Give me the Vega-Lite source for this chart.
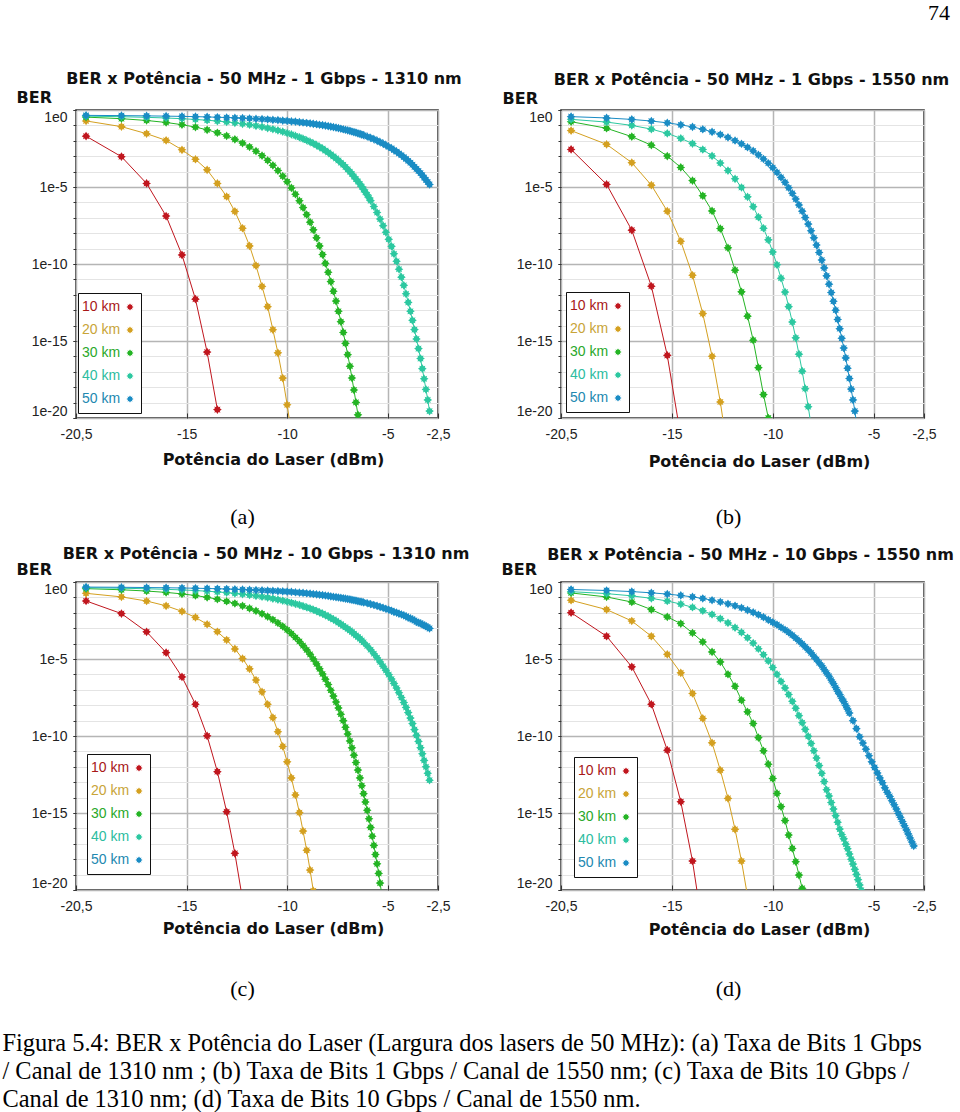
{
"$schema":"https://vega.github.io/schema/vega-lite/v6.json",
"autosize":{"type":"none"},
"padding":{"left":76,"top":110,"right":884,"bottom":1002},
"background":"white",
"config":{
 "view":{"stroke":"#1a1a1a","strokeWidth":1.5},
 "axis":{"domain":false,"labelFont":"Liberation Sans","labelFontSize":14,"labelColor":"#222","titleFont":"DejaVu Sans","titleFontSize":16,"titleFontWeight":"bold","titleColor":"#111","tickColor":"#333","gridColor":"#b5b5b5","gridWidth":1.5,"labelOverlap":false,"labelBound":false},
 "title":{"font":"DejaVu Sans","fontSize":16,"fontWeight":"bold","color":"#111","anchor":"middle","frame":"group"},
 "legend":{"title":null,"orient":"none","padding":7,"rowPadding":9,"strokeColor":"#111","fillColor":"white","labelFont":"Liberation Sans","labelFontSize":14,"symbolSize":50,
  "symbolType":"M0,-1L0.3,-0.55L0.7,-0.7L0.55,-0.3L1,0L0.55,0.3L0.7,0.7L0.3,0.55L0,1L-0.3,0.55L-0.7,0.7L-0.55,0.3L-1,0L-0.55,-0.3L-0.7,-0.7L-0.3,-0.55Z"}
},
"resolve":{"scale":{"color":"independent"},"legend":{"color":"independent"}},
"datasets":{
"a":[
{"km":"10 km","dbm":-20.00,"ber":2.0e-2},{"km":"10 km","dbm":-18.24,"ber":9.3e-4},{"km":"10 km","dbm":-16.99,"ber":1.7e-5},{"km":"10 km","dbm":-16.02,"ber":1.3e-7},{"km":"10 km","dbm":-15.23,"ber":3.9e-10},{"km":"10 km","dbm":-14.56,"ber":5.2e-13},{"km":"10 km","dbm":-13.98,"ber":1.9e-16},{"km":"10 km","dbm":-13.47,"ber":3.5e-20},
{"km":"20 km","dbm":-20.00,"ber":0.195},{"km":"20 km","dbm":-18.24,"ber":8.3e-2},{"km":"20 km","dbm":-16.99,"ber":2.9e-2},{"km":"20 km","dbm":-16.02,"ber":1.07e-2},{"km":"20 km","dbm":-15.23,"ber":2.6e-3},{"km":"20 km","dbm":-14.56,"ber":6.3e-4},{"km":"20 km","dbm":-13.98,"ber":1.3e-4},{"km":"20 km","dbm":-13.47,"ber":1.7e-5},{"km":"20 km","dbm":-13.01,"ber":2.4e-6},{"km":"20 km","dbm":-12.60,"ber":2.6e-7},{"km":"20 km","dbm":-12.22,"ber":2.1e-8},{"km":"20 km","dbm":-11.87,"ber":1.5e-9},{"km":"20 km","dbm":-11.55,"ber":7.9e-11},{"km":"20 km","dbm":-11.25,"ber":3.5e-12},{"km":"20 km","dbm":-10.97,"ber":1.7e-13},{"km":"20 km","dbm":-10.71,"ber":5.4e-15},{"km":"20 km","dbm":-10.46,"ber":1.7e-16},{"km":"20 km","dbm":-10.22,"ber":3.9e-18},{"km":"20 km","dbm":-10.00,"ber":7.2e-20},{"km":"20 km","dbm":-9.79,"ber":1e-21},
{"km":"30 km","dbm":-20.00,"ber":0.345},{"km":"30 km","dbm":-18.24,"ber":0.273},{"km":"30 km","dbm":-16.99,"ber":0.209},{"km":"30 km","dbm":-16.02,"ber":0.155},{"km":"30 km","dbm":-15.23,"ber":0.111},{"km":"30 km","dbm":-14.56,"ber":0.0771},{"km":"30 km","dbm":-13.98,"ber":0.0516},{"km":"30 km","dbm":-13.47,"ber":0.0333},{"km":"30 km","dbm":-13.01,"ber":0.0207},{"km":"30 km","dbm":-12.60,"ber":0.0124},{"km":"30 km","dbm":-12.22,"ber":0.00714},{"km":"30 km","dbm":-11.87,"ber":0.00397},{"km":"30 km","dbm":-11.55,"ber":0.00212},{"km":"30 km","dbm":-11.25,"ber":1.09e-3},{"km":"30 km","dbm":-10.97,"ber":5.4e-4},{"km":"30 km","dbm":-10.71,"ber":2.55e-4},{"km":"30 km","dbm":-10.46,"ber":1.17e-4},{"km":"30 km","dbm":-10.22,"ber":5.1e-5},{"km":"30 km","dbm":-10.00,"ber":2.2e-5},{"km":"30 km","dbm":-9.79,"ber":8.7e-6},{"km":"30 km","dbm":-9.59,"ber":3.4e-6},{"km":"30 km","dbm":-9.39,"ber":1.27e-6},{"km":"30 km","dbm":-9.21,"ber":4.6e-7},{"km":"30 km","dbm":-9.03,"ber":1.6e-7},{"km":"30 km","dbm":-8.86,"ber":5.2e-8},{"km":"30 km","dbm":-8.70,"ber":1.65e-8},{"km":"30 km","dbm":-8.54,"ber":5.0e-9},{"km":"30 km","dbm":-8.39,"ber":1.5e-9},{"km":"30 km","dbm":-8.24,"ber":4.1e-10},{"km":"30 km","dbm":-8.10,"ber":1.1e-10},{"km":"30 km","dbm":-7.96,"ber":2.9e-11},{"km":"30 km","dbm":-7.83,"ber":7.2e-12},{"km":"30 km","dbm":-7.70,"ber":1.7e-12},{"km":"30 km","dbm":-7.57,"ber":3.9e-13},{"km":"30 km","dbm":-7.45,"ber":8.5e-14},{"km":"30 km","dbm":-7.33,"ber":1.8e-14},{"km":"30 km","dbm":-7.21,"ber":3.6e-15},{"km":"30 km","dbm":-7.10,"ber":7.0e-16},{"km":"30 km","dbm":-6.99,"ber":1.3e-16},{"km":"30 km","dbm":-6.88,"ber":2.3e-17},{"km":"30 km","dbm":-6.78,"ber":4.0e-18},{"km":"30 km","dbm":-6.68,"ber":6.6e-19},{"km":"30 km","dbm":-6.58,"ber":1.03e-19},{"km":"30 km","dbm":-6.48,"ber":1.6e-20},{"km":"30 km","dbm":-6.38,"ber":2.3e-21},
{"km":"40 km","dbm":-20.00,"ber":0.401},{"km":"40 km","dbm":-18.24,"ber":0.367},{"km":"40 km","dbm":-16.99,"ber":0.334},{"km":"40 km","dbm":-16.02,"ber":0.303},{"km":"40 km","dbm":-15.23,"ber":0.272},{"km":"40 km","dbm":-14.56,"ber":0.243},{"km":"40 km","dbm":-13.98,"ber":0.216},{"km":"40 km","dbm":-13.47,"ber":0.191},{"km":"40 km","dbm":-13.01,"ber":0.168},{"km":"40 km","dbm":-12.60,"ber":0.147},{"km":"40 km","dbm":-12.22,"ber":0.127},{"km":"40 km","dbm":-11.87,"ber":0.110},{"km":"40 km","dbm":-11.55,"ber":0.094},{"km":"40 km","dbm":-11.25,"ber":0.080},{"km":"40 km","dbm":-10.97,"ber":0.0673},{"km":"40 km","dbm":-10.71,"ber":0.0565},{"km":"40 km","dbm":-10.46,"ber":0.0471},{"km":"40 km","dbm":-10.22,"ber":0.0390},{"km":"40 km","dbm":-10.00,"ber":0.0320},{"km":"40 km","dbm":-9.79,"ber":0.0261},{"km":"40 km","dbm":-9.59,"ber":0.0212},{"km":"40 km","dbm":-9.39,"ber":0.0170},{"km":"40 km","dbm":-9.21,"ber":0.0136},{"km":"40 km","dbm":-9.03,"ber":0.0108},{"km":"40 km","dbm":-8.86,"ber":0.0085},{"km":"40 km","dbm":-8.70,"ber":0.0067},{"km":"40 km","dbm":-8.54,"ber":0.0052},{"km":"40 km","dbm":-8.39,"ber":0.0040},{"km":"40 km","dbm":-8.24,"ber":0.0031},{"km":"40 km","dbm":-8.10,"ber":0.0023},{"km":"40 km","dbm":-7.96,"ber":0.00175},{"km":"40 km","dbm":-7.83,"ber":0.00131},{"km":"40 km","dbm":-7.70,"ber":9.7e-4},{"km":"40 km","dbm":-7.57,"ber":7.2e-4},{"km":"40 km","dbm":-7.45,"ber":5.3e-4},{"km":"40 km","dbm":-7.33,"ber":3.8e-4},{"km":"40 km","dbm":-7.21,"ber":2.8e-4},{"km":"40 km","dbm":-7.10,"ber":2.0e-4},{"km":"40 km","dbm":-6.99,"ber":1.4e-4},{"km":"40 km","dbm":-6.88,"ber":9.9e-5},{"km":"40 km","dbm":-6.78,"ber":7.0e-5},{"km":"40 km","dbm":-6.68,"ber":4.8e-5},{"km":"40 km","dbm":-6.58,"ber":3.3e-5},{"km":"40 km","dbm":-6.48,"ber":2.3e-5},{"km":"40 km","dbm":-6.38,"ber":1.55e-5},{"km":"40 km","dbm":-6.29,"ber":1.05e-5},{"km":"40 km","dbm":-6.20,"ber":7.0e-6},{"km":"40 km","dbm":-6.11,"ber":4.6e-6},{"km":"40 km","dbm":-6.02,"ber":3.1e-6},{"km":"40 km","dbm":-5.93,"ber":2.0e-6},{"km":"40 km","dbm":-5.85,"ber":1.3e-6},{"km":"40 km","dbm":-5.69,"ber":5.4e-7},{"km":"40 km","dbm":-5.53,"ber":2.2e-7},{"km":"40 km","dbm":-5.38,"ber":8.3e-8},{"km":"40 km","dbm":-5.23,"ber":3.1e-8},{"km":"40 km","dbm":-5.09,"ber":1.14e-8},{"km":"40 km","dbm":-4.95,"ber":4.0e-9},{"km":"40 km","dbm":-4.81,"ber":1.4e-9},{"km":"40 km","dbm":-4.69,"ber":4.6e-10},{"km":"40 km","dbm":-4.56,"ber":1.5e-10},{"km":"40 km","dbm":-4.44,"ber":4.6e-11},{"km":"40 km","dbm":-4.32,"ber":1.4e-11},{"km":"40 km","dbm":-4.20,"ber":4.1e-12},{"km":"40 km","dbm":-4.09,"ber":1.16e-12},{"km":"40 km","dbm":-3.98,"ber":3.2e-13},{"km":"40 km","dbm":-3.87,"ber":8.5e-14},{"km":"40 km","dbm":-3.77,"ber":2.2e-14},{"km":"40 km","dbm":-3.67,"ber":5.5e-15},{"km":"40 km","dbm":-3.57,"ber":1.35e-15},{"km":"40 km","dbm":-3.47,"ber":3.2e-16},{"km":"40 km","dbm":-3.37,"ber":7.3e-17},{"km":"40 km","dbm":-3.28,"ber":1.6e-17},{"km":"40 km","dbm":-3.19,"ber":3.5e-18},{"km":"40 km","dbm":-3.10,"ber":7.2e-19},{"km":"40 km","dbm":-3.01,"ber":1.5e-19},{"km":"40 km","dbm":-2.92,"ber":2.8e-20},
{"km":"50 km","dbm":-20.00,"ber":0.448},{"km":"50 km","dbm":-18.24,"ber":0.432},{"km":"50 km","dbm":-16.99,"ber":0.416},{"km":"50 km","dbm":-16.02,"ber":0.400},{"km":"50 km","dbm":-15.23,"ber":0.385},{"km":"50 km","dbm":-14.56,"ber":0.370},{"km":"50 km","dbm":-13.98,"ber":0.355},{"km":"50 km","dbm":-13.47,"ber":0.339},{"km":"50 km","dbm":-13.01,"ber":0.325},{"km":"50 km","dbm":-12.60,"ber":0.310},{"km":"50 km","dbm":-12.22,"ber":0.296},{"km":"50 km","dbm":-11.87,"ber":0.282},{"km":"50 km","dbm":-11.55,"ber":0.269},{"km":"50 km","dbm":-11.25,"ber":0.256},{"km":"50 km","dbm":-10.97,"ber":0.243},{"km":"50 km","dbm":-10.71,"ber":0.230},{"km":"50 km","dbm":-10.46,"ber":0.218},{"km":"50 km","dbm":-10.22,"ber":0.206},{"km":"50 km","dbm":-10.00,"ber":0.195},{"km":"50 km","dbm":-9.79,"ber":0.184},{"km":"50 km","dbm":-9.59,"ber":0.174},{"km":"50 km","dbm":-9.39,"ber":0.163},{"km":"50 km","dbm":-9.21,"ber":0.154},{"km":"50 km","dbm":-9.03,"ber":0.144},{"km":"50 km","dbm":-8.86,"ber":0.135},{"km":"50 km","dbm":-8.70,"ber":0.127},{"km":"50 km","dbm":-8.54,"ber":0.118},{"km":"50 km","dbm":-8.39,"ber":0.110},{"km":"50 km","dbm":-8.24,"ber":0.103},{"km":"50 km","dbm":-8.10,"ber":0.096},{"km":"50 km","dbm":-7.96,"ber":0.089},{"km":"50 km","dbm":-7.83,"ber":0.083},{"km":"50 km","dbm":-7.70,"ber":0.077},{"km":"50 km","dbm":-7.57,"ber":0.071},{"km":"50 km","dbm":-7.45,"ber":0.066},{"km":"50 km","dbm":-7.33,"ber":0.061},{"km":"50 km","dbm":-7.21,"ber":0.056},{"km":"50 km","dbm":-7.10,"ber":0.052},{"km":"50 km","dbm":-6.99,"ber":0.048},{"km":"50 km","dbm":-6.88,"ber":0.0437},{"km":"50 km","dbm":-6.78,"ber":0.0401},{"km":"50 km","dbm":-6.68,"ber":0.0367},{"km":"50 km","dbm":-6.58,"ber":0.0336},{"km":"50 km","dbm":-6.48,"ber":0.0306},{"km":"50 km","dbm":-6.38,"ber":0.0279},{"km":"50 km","dbm":-6.29,"ber":0.0254},{"km":"50 km","dbm":-6.20,"ber":0.0231},{"km":"50 km","dbm":-6.02,"ber":0.0190},{"km":"50 km","dbm":-5.85,"ber":0.0156},{"km":"50 km","dbm":-5.69,"ber":0.0127},{"km":"50 km","dbm":-5.53,"ber":0.0103},{"km":"50 km","dbm":-5.38,"ber":0.0082},{"km":"50 km","dbm":-5.23,"ber":0.0066},{"km":"50 km","dbm":-5.09,"ber":0.0052},{"km":"50 km","dbm":-4.95,"ber":0.0041},{"km":"50 km","dbm":-4.81,"ber":0.00324},{"km":"50 km","dbm":-4.69,"ber":0.0025},{"km":"50 km","dbm":-4.56,"ber":0.00196},{"km":"50 km","dbm":-4.44,"ber":0.00151},{"km":"50 km","dbm":-4.32,"ber":1.16e-3},{"km":"50 km","dbm":-4.20,"ber":8.8e-4},{"km":"50 km","dbm":-4.09,"ber":6.7e-4},{"km":"50 km","dbm":-3.98,"ber":5.0e-4},{"km":"50 km","dbm":-3.87,"ber":3.76e-4},{"km":"50 km","dbm":-3.77,"ber":2.8e-4},{"km":"50 km","dbm":-3.67,"ber":2.06e-4},{"km":"50 km","dbm":-3.57,"ber":1.5e-4},{"km":"50 km","dbm":-3.47,"ber":1.1e-4},{"km":"50 km","dbm":-3.37,"ber":8.0e-5},{"km":"50 km","dbm":-3.28,"ber":5.8e-5},{"km":"50 km","dbm":-3.19,"ber":4.1e-5},{"km":"50 km","dbm":-3.10,"ber":2.9e-5},{"km":"50 km","dbm":-3.01,"ber":2.1e-5},{"km":"50 km","dbm":-2.92,"ber":1.45e-5}
],
"b":[
{"km":"10 km","dbm":-20.00,"ber":2.75e-3},{"km":"10 km","dbm":-18.24,"ber":1.48e-5},{"km":"10 km","dbm":-16.99,"ber":1.58e-8},{"km":"10 km","dbm":-16.02,"ber":3.6e-12},{"km":"10 km","dbm":-15.23,"ber":1.17e-16},{"km":"10 km","dbm":-14.56,"ber":6e-22},
{"km":"20 km","dbm":-20.00,"ber":4.6e-2},{"km":"20 km","dbm":-18.24,"ber":5.9e-3},{"km":"20 km","dbm":-16.99,"ber":3.8e-4},{"km":"20 km","dbm":-16.02,"ber":1.32e-5},{"km":"20 km","dbm":-15.23,"ber":2.7e-7},{"km":"20 km","dbm":-14.56,"ber":3.0e-9},{"km":"20 km","dbm":-13.98,"ber":1.86e-11},{"km":"20 km","dbm":-13.47,"ber":6.0e-14},{"km":"20 km","dbm":-13.01,"ber":1.02e-16},{"km":"20 km","dbm":-12.60,"ber":1.1e-19},{"km":"20 km","dbm":-12.22,"ber":5e-23},
{"km":"30 km","dbm":-20.00,"ber":0.174},{"km":"30 km","dbm":-18.24,"ber":6.5e-2},{"km":"30 km","dbm":-16.99,"ber":1.86e-2},{"km":"30 km","dbm":-16.02,"ber":5.2e-3},{"km":"30 km","dbm":-15.23,"ber":1.02e-3},{"km":"30 km","dbm":-14.56,"ber":1.86e-4},{"km":"30 km","dbm":-13.98,"ber":2.6e-5},{"km":"30 km","dbm":-13.47,"ber":2.7e-6},{"km":"30 km","dbm":-13.01,"ber":2.8e-7},{"km":"30 km","dbm":-12.60,"ber":2.0e-8},{"km":"30 km","dbm":-12.22,"ber":1.12e-9},{"km":"30 km","dbm":-11.87,"ber":4.0e-11},{"km":"30 km","dbm":-11.55,"ber":1.55e-12},{"km":"30 km","dbm":-11.25,"ber":4.1e-14},{"km":"30 km","dbm":-10.97,"ber":1.12e-15},{"km":"30 km","dbm":-10.71,"ber":1.86e-17},{"km":"30 km","dbm":-10.46,"ber":3.3e-19},{"km":"30 km","dbm":-10.22,"ber":1.0e-20},{"km":"30 km","dbm":-10.00,"ber":1.3e-22},
{"km":"40 km","dbm":-20.00,"ber":0.248},{"km":"40 km","dbm":-18.24,"ber":0.164},{"km":"40 km","dbm":-16.99,"ber":0.100},{"km":"40 km","dbm":-16.02,"ber":0.0571},{"km":"40 km","dbm":-15.23,"ber":0.0301},{"km":"40 km","dbm":-14.56,"ber":0.0146},{"km":"40 km","dbm":-13.98,"ber":0.00657},{"km":"40 km","dbm":-13.47,"ber":0.00272},{"km":"40 km","dbm":-13.01,"ber":1.04e-3},{"km":"40 km","dbm":-12.60,"ber":3.6e-4},{"km":"40 km","dbm":-12.22,"ber":1.17e-4},{"km":"40 km","dbm":-11.87,"ber":3.4e-5},{"km":"40 km","dbm":-11.55,"ber":9.3e-6},{"km":"40 km","dbm":-11.25,"ber":2.3e-6},{"km":"40 km","dbm":-10.97,"ber":5.3e-7},{"km":"40 km","dbm":-10.71,"ber":1.1e-7},{"km":"40 km","dbm":-10.46,"ber":2.1e-8},{"km":"40 km","dbm":-10.22,"ber":3.7e-9},{"km":"40 km","dbm":-10.00,"ber":6.0e-10},{"km":"40 km","dbm":-9.79,"ber":8.9e-11},{"km":"40 km","dbm":-9.59,"ber":1.2e-11},{"km":"40 km","dbm":-9.39,"ber":1.5e-12},{"km":"40 km","dbm":-9.21,"ber":1.7e-13},{"km":"40 km","dbm":-9.03,"ber":1.7e-14},{"km":"40 km","dbm":-8.86,"ber":1.6e-15},{"km":"40 km","dbm":-8.70,"ber":1.4e-16},{"km":"40 km","dbm":-8.54,"ber":1.1e-17},{"km":"40 km","dbm":-8.39,"ber":8.0e-19},{"km":"40 km","dbm":-8.24,"ber":5.4e-20},{"km":"40 km","dbm":-8.10,"ber":3.3e-21},
{"km":"50 km","dbm":-20.00,"ber":0.371},{"km":"50 km","dbm":-18.24,"ber":0.305},{"km":"50 km","dbm":-16.99,"ber":0.245},{"km":"50 km","dbm":-16.02,"ber":0.192},{"km":"50 km","dbm":-15.23,"ber":0.147},{"km":"50 km","dbm":-14.56,"ber":0.109},{"km":"50 km","dbm":-13.98,"ber":0.0793},{"km":"50 km","dbm":-13.47,"ber":0.0559},{"km":"50 km","dbm":-13.01,"ber":0.0384},{"km":"50 km","dbm":-12.60,"ber":0.0256},{"km":"50 km","dbm":-12.22,"ber":0.0166},{"km":"50 km","dbm":-11.87,"ber":0.0104},{"km":"50 km","dbm":-11.55,"ber":0.0064},{"km":"50 km","dbm":-11.25,"ber":0.0038},{"km":"50 km","dbm":-10.97,"ber":0.0022},{"km":"50 km","dbm":-10.71,"ber":1.22e-3},{"km":"50 km","dbm":-10.46,"ber":6.6e-4},{"km":"50 km","dbm":-10.22,"ber":3.5e-4},{"km":"50 km","dbm":-10.00,"ber":1.8e-4},{"km":"50 km","dbm":-9.79,"ber":8.8e-5},{"km":"50 km","dbm":-9.59,"ber":4.2e-5},{"km":"50 km","dbm":-9.39,"ber":2.0e-5},{"km":"50 km","dbm":-9.21,"ber":8.9e-6},{"km":"50 km","dbm":-9.03,"ber":3.9e-6},{"km":"50 km","dbm":-8.86,"ber":1.66e-6},{"km":"50 km","dbm":-8.70,"ber":6.8e-7},{"km":"50 km","dbm":-8.54,"ber":2.7e-7},{"km":"50 km","dbm":-8.39,"ber":1.05e-7},{"km":"50 km","dbm":-8.24,"ber":3.9e-8},{"km":"50 km","dbm":-8.10,"ber":1.43e-8},{"km":"50 km","dbm":-7.96,"ber":5.0e-9},{"km":"50 km","dbm":-7.83,"ber":1.7e-9},{"km":"50 km","dbm":-7.70,"ber":5.6e-10},{"km":"50 km","dbm":-7.57,"ber":1.8e-10},{"km":"50 km","dbm":-7.45,"ber":5.6e-11},{"km":"50 km","dbm":-7.33,"ber":1.7e-11},{"km":"50 km","dbm":-7.21,"ber":4.9e-12},{"km":"50 km","dbm":-7.10,"ber":1.4e-12},{"km":"50 km","dbm":-6.99,"ber":3.8e-13},{"km":"50 km","dbm":-6.88,"ber":1.0e-13},{"km":"50 km","dbm":-6.78,"ber":2.5e-14},{"km":"50 km","dbm":-6.68,"ber":6.3e-15},{"km":"50 km","dbm":-6.58,"ber":1.5e-15},{"km":"50 km","dbm":-6.48,"ber":3.5e-16},{"km":"50 km","dbm":-6.38,"ber":8.0e-17},{"km":"50 km","dbm":-6.29,"ber":1.7e-17},{"km":"50 km","dbm":-6.20,"ber":3.7e-18},{"km":"50 km","dbm":-6.11,"ber":7.5e-19},{"km":"50 km","dbm":-6.02,"ber":1.5e-19},{"km":"50 km","dbm":-5.93,"ber":2.8e-20},{"km":"50 km","dbm":-5.85,"ber":5.2e-21}
],
"c":[
{"km":"10 km","dbm":-20.00,"ber":5.9e-2},{"km":"10 km","dbm":-18.24,"ber":8.9e-3},{"km":"10 km","dbm":-16.99,"ber":5.8e-4},{"km":"10 km","dbm":-16.02,"ber":2.6e-5},{"km":"10 km","dbm":-15.23,"ber":6.9e-7},{"km":"10 km","dbm":-14.56,"ber":1.15e-8},{"km":"10 km","dbm":-13.98,"ber":1.02e-10},{"km":"10 km","dbm":-13.47,"ber":4.8e-13},{"km":"10 km","dbm":-13.01,"ber":1.2e-15},{"km":"10 km","dbm":-12.60,"ber":2.4e-18},{"km":"10 km","dbm":-12.22,"ber":2.5e-21},
{"km":"20 km","dbm":-20.00,"ber":0.184},{"km":"20 km","dbm":-18.24,"ber":0.108},{"km":"20 km","dbm":-16.99,"ber":0.0582},{"km":"20 km","dbm":-16.02,"ber":0.0284},{"km":"20 km","dbm":-15.23,"ber":0.0125},{"km":"20 km","dbm":-14.56,"ber":0.0050},{"km":"20 km","dbm":-13.98,"ber":0.0018},{"km":"20 km","dbm":-13.47,"ber":5.9e-4},{"km":"20 km","dbm":-13.01,"ber":1.72e-4},{"km":"20 km","dbm":-12.60,"ber":4.5e-5},{"km":"20 km","dbm":-12.22,"ber":1.07e-5},{"km":"20 km","dbm":-11.87,"ber":2.3e-6},{"km":"20 km","dbm":-11.55,"ber":4.3e-7},{"km":"20 km","dbm":-11.25,"ber":7.4e-8},{"km":"20 km","dbm":-10.97,"ber":1.14e-8},{"km":"20 km","dbm":-10.71,"ber":1.56e-9},{"km":"20 km","dbm":-10.46,"ber":1.9e-10},{"km":"20 km","dbm":-10.22,"ber":2.1e-11},{"km":"20 km","dbm":-10.00,"ber":2.1e-12},{"km":"20 km","dbm":-9.79,"ber":1.9e-13},{"km":"20 km","dbm":-9.59,"ber":1.48e-14},{"km":"20 km","dbm":-9.39,"ber":1.05e-15},{"km":"20 km","dbm":-9.21,"ber":6.7e-17},{"km":"20 km","dbm":-9.03,"ber":3.8e-18},{"km":"20 km","dbm":-8.86,"ber":1.96e-19},{"km":"20 km","dbm":-8.70,"ber":8.9e-21},
{"km":"30 km","dbm":-20.00,"ber":0.371},{"km":"30 km","dbm":-18.24,"ber":0.313},{"km":"30 km","dbm":-16.99,"ber":0.259},{"km":"30 km","dbm":-16.02,"ber":0.211},{"km":"30 km","dbm":-15.23,"ber":0.169},{"km":"30 km","dbm":-14.56,"ber":0.132},{"km":"30 km","dbm":-13.98,"ber":0.101},{"km":"30 km","dbm":-13.47,"ber":0.0761},{"km":"30 km","dbm":-13.01,"ber":0.0559},{"km":"30 km","dbm":-12.60,"ber":0.0403},{"km":"30 km","dbm":-12.22,"ber":0.0284},{"km":"30 km","dbm":-11.87,"ber":0.0196},{"km":"30 km","dbm":-11.55,"ber":0.0132},{"km":"30 km","dbm":-11.25,"ber":0.0087},{"km":"30 km","dbm":-10.97,"ber":0.0056},{"km":"30 km","dbm":-10.71,"ber":0.00355},{"km":"30 km","dbm":-10.46,"ber":0.00219},{"km":"30 km","dbm":-10.22,"ber":1.32e-3},{"km":"30 km","dbm":-10.00,"ber":7.8e-4},{"km":"30 km","dbm":-9.79,"ber":4.5e-4},{"km":"30 km","dbm":-9.59,"ber":2.5e-4},{"km":"30 km","dbm":-9.39,"ber":1.38e-4},{"km":"30 km","dbm":-9.21,"ber":7.4e-5},{"km":"30 km","dbm":-9.03,"ber":3.9e-5},{"km":"30 km","dbm":-8.86,"ber":2.0e-5},{"km":"30 km","dbm":-8.70,"ber":9.9e-6},{"km":"30 km","dbm":-8.54,"ber":4.8e-6},{"km":"30 km","dbm":-8.39,"ber":2.3e-6},{"km":"30 km","dbm":-8.24,"ber":1.07e-6},{"km":"30 km","dbm":-8.10,"ber":4.9e-7},{"km":"30 km","dbm":-7.96,"ber":2.2e-7},{"km":"30 km","dbm":-7.83,"ber":9.3e-8},{"km":"30 km","dbm":-7.70,"ber":3.9e-8},{"km":"30 km","dbm":-7.57,"ber":1.6e-8},{"km":"30 km","dbm":-7.45,"ber":6.6e-9},{"km":"30 km","dbm":-7.33,"ber":2.6e-9},{"km":"30 km","dbm":-7.21,"ber":9.9e-10},{"km":"30 km","dbm":-7.10,"ber":3.7e-10},{"km":"30 km","dbm":-6.99,"ber":1.35e-10},{"km":"30 km","dbm":-6.88,"ber":4.8e-11},{"km":"30 km","dbm":-6.78,"ber":1.7e-11},{"km":"30 km","dbm":-6.68,"ber":5.7e-12},{"km":"30 km","dbm":-6.58,"ber":1.9e-12},{"km":"30 km","dbm":-6.48,"ber":6.1e-13},{"km":"30 km","dbm":-6.38,"ber":1.9e-13},{"km":"30 km","dbm":-6.29,"ber":5.9e-14},{"km":"30 km","dbm":-6.20,"ber":1.8e-14},{"km":"30 km","dbm":-6.11,"ber":5.2e-15},{"km":"30 km","dbm":-6.02,"ber":1.5e-15},{"km":"30 km","dbm":-5.93,"ber":4.2e-16},{"km":"30 km","dbm":-5.85,"ber":1.16e-16},{"km":"30 km","dbm":-5.77,"ber":3.1e-17},{"km":"30 km","dbm":-5.69,"ber":7.9e-18},{"km":"30 km","dbm":-5.61,"ber":2.0e-18},{"km":"30 km","dbm":-5.53,"ber":5.0e-19},{"km":"30 km","dbm":-5.45,"ber":1.2e-19},{"km":"30 km","dbm":-5.38,"ber":2.8e-20},{"km":"30 km","dbm":-5.23,"ber":1.45e-21},
{"km":"40 km","dbm":-20.00,"ber":0.425},{"km":"40 km","dbm":-18.24,"ber":0.394},{"km":"40 km","dbm":-16.99,"ber":0.364},{"km":"40 km","dbm":-16.02,"ber":0.334},{"km":"40 km","dbm":-15.23,"ber":0.306},{"km":"40 km","dbm":-14.56,"ber":0.278},{"km":"40 km","dbm":-13.98,"ber":0.252},{"km":"40 km","dbm":-13.47,"ber":0.228},{"km":"40 km","dbm":-13.01,"ber":0.204},{"km":"40 km","dbm":-12.60,"ber":0.182},{"km":"40 km","dbm":-12.22,"ber":0.162},{"km":"40 km","dbm":-11.87,"ber":0.143},{"km":"40 km","dbm":-11.55,"ber":0.126},{"km":"40 km","dbm":-11.25,"ber":0.110},{"km":"40 km","dbm":-10.97,"ber":0.0964},{"km":"40 km","dbm":-10.71,"ber":0.0833},{"km":"40 km","dbm":-10.46,"ber":0.0718},{"km":"40 km","dbm":-10.22,"ber":0.0615},{"km":"40 km","dbm":-10.00,"ber":0.0526},{"km":"40 km","dbm":-9.79,"ber":0.0449},{"km":"40 km","dbm":-9.59,"ber":0.0383},{"km":"40 km","dbm":-9.39,"ber":0.0324},{"km":"40 km","dbm":-9.21,"ber":0.0273},{"km":"40 km","dbm":-9.03,"ber":0.0229},{"km":"40 km","dbm":-8.86,"ber":0.0191},{"km":"40 km","dbm":-8.70,"ber":0.0158},{"km":"40 km","dbm":-8.54,"ber":0.0131},{"km":"40 km","dbm":-8.39,"ber":0.0107},{"km":"40 km","dbm":-8.24,"ber":0.0088},{"km":"40 km","dbm":-8.10,"ber":0.0071},{"km":"40 km","dbm":-7.96,"ber":0.0058},{"km":"40 km","dbm":-7.83,"ber":0.0046},{"km":"40 km","dbm":-7.70,"ber":0.0037},{"km":"40 km","dbm":-7.57,"ber":0.0030},{"km":"40 km","dbm":-7.45,"ber":0.00234},{"km":"40 km","dbm":-7.33,"ber":0.00184},{"km":"40 km","dbm":-7.21,"ber":0.00144},{"km":"40 km","dbm":-7.10,"ber":1.15e-3},{"km":"40 km","dbm":-6.99,"ber":9.1e-4},{"km":"40 km","dbm":-6.88,"ber":7.2e-4},{"km":"40 km","dbm":-6.78,"ber":5.7e-4},{"km":"40 km","dbm":-6.68,"ber":4.4e-4},{"km":"40 km","dbm":-6.58,"ber":3.4e-4},{"km":"40 km","dbm":-6.48,"ber":2.7e-4},{"km":"40 km","dbm":-6.38,"ber":2.1e-4},{"km":"40 km","dbm":-6.29,"ber":1.6e-4},{"km":"40 km","dbm":-6.20,"ber":1.21e-4},{"km":"40 km","dbm":-6.02,"ber":7.0e-5},{"km":"40 km","dbm":-5.85,"ber":4.0e-5},{"km":"40 km","dbm":-5.69,"ber":2.2e-5},{"km":"40 km","dbm":-5.53,"ber":1.21e-5},{"km":"40 km","dbm":-5.38,"ber":6.5e-6},{"km":"40 km","dbm":-5.23,"ber":3.4e-6},{"km":"40 km","dbm":-5.09,"ber":1.83e-6},{"km":"40 km","dbm":-4.95,"ber":9.7e-7},{"km":"40 km","dbm":-4.81,"ber":5.0e-7},{"km":"40 km","dbm":-4.69,"ber":2.6e-7},{"km":"40 km","dbm":-4.56,"ber":1.3e-7},{"km":"40 km","dbm":-4.44,"ber":6.5e-8},{"km":"40 km","dbm":-4.32,"ber":3.15e-8},{"km":"40 km","dbm":-4.20,"ber":1.5e-8},{"km":"40 km","dbm":-4.09,"ber":7.2e-9},{"km":"40 km","dbm":-3.98,"ber":3.3e-9},{"km":"40 km","dbm":-3.87,"ber":1.45e-9},{"km":"40 km","dbm":-3.77,"ber":6.4e-10},{"km":"40 km","dbm":-3.67,"ber":2.6e-10},{"km":"40 km","dbm":-3.57,"ber":1.1e-10},{"km":"40 km","dbm":-3.47,"ber":4.45e-11},{"km":"40 km","dbm":-3.37,"ber":1.73e-11},{"km":"40 km","dbm":-3.28,"ber":7.0e-12},{"km":"40 km","dbm":-3.19,"ber":2.6e-12},{"km":"40 km","dbm":-3.10,"ber":1.0e-12},{"km":"40 km","dbm":-3.01,"ber":3.8e-13},{"km":"40 km","dbm":-2.92,"ber":1.35e-13},
{"km":"50 km","dbm":-20.00,"ber":0.468},{"km":"50 km","dbm":-18.24,"ber":0.453},{"km":"50 km","dbm":-16.99,"ber":0.438},{"km":"50 km","dbm":-16.02,"ber":0.423},{"km":"50 km","dbm":-15.23,"ber":0.408},{"km":"50 km","dbm":-14.56,"ber":0.394},{"km":"50 km","dbm":-13.98,"ber":0.379},{"km":"50 km","dbm":-13.47,"ber":0.365},{"km":"50 km","dbm":-13.01,"ber":0.351},{"km":"50 km","dbm":-12.60,"ber":0.337},{"km":"50 km","dbm":-12.22,"ber":0.324},{"km":"50 km","dbm":-11.87,"ber":0.310},{"km":"50 km","dbm":-11.55,"ber":0.299},{"km":"50 km","dbm":-11.25,"ber":0.288},{"km":"50 km","dbm":-10.97,"ber":0.278},{"km":"50 km","dbm":-10.71,"ber":0.267},{"km":"50 km","dbm":-10.46,"ber":0.257},{"km":"50 km","dbm":-10.22,"ber":0.247},{"km":"50 km","dbm":-10.00,"ber":0.237},{"km":"50 km","dbm":-9.79,"ber":0.226},{"km":"50 km","dbm":-9.59,"ber":0.215},{"km":"50 km","dbm":-9.39,"ber":0.205},{"km":"50 km","dbm":-9.21,"ber":0.195},{"km":"50 km","dbm":-9.03,"ber":0.185},{"km":"50 km","dbm":-8.86,"ber":0.175},{"km":"50 km","dbm":-8.70,"ber":0.166},{"km":"50 km","dbm":-8.54,"ber":0.157},{"km":"50 km","dbm":-8.39,"ber":0.148},{"km":"50 km","dbm":-8.24,"ber":0.140},{"km":"50 km","dbm":-8.10,"ber":0.132},{"km":"50 km","dbm":-7.96,"ber":0.125},{"km":"50 km","dbm":-7.83,"ber":0.117},{"km":"50 km","dbm":-7.70,"ber":0.110},{"km":"50 km","dbm":-7.57,"ber":0.104},{"km":"50 km","dbm":-7.45,"ber":0.0985},{"km":"50 km","dbm":-7.33,"ber":0.0932},{"km":"50 km","dbm":-7.21,"ber":0.0880},{"km":"50 km","dbm":-7.10,"ber":0.0831},{"km":"50 km","dbm":-6.99,"ber":0.0784},{"km":"50 km","dbm":-6.88,"ber":0.0738},{"km":"50 km","dbm":-6.78,"ber":0.0694},{"km":"50 km","dbm":-6.68,"ber":0.0654},{"km":"50 km","dbm":-6.58,"ber":0.0614},{"km":"50 km","dbm":-6.48,"ber":0.0577},{"km":"50 km","dbm":-6.38,"ber":0.0541},{"km":"50 km","dbm":-6.29,"ber":0.0507},{"km":"50 km","dbm":-6.20,"ber":0.0476},{"km":"50 km","dbm":-6.02,"ber":0.0418},{"km":"50 km","dbm":-5.85,"ber":0.0367},{"km":"50 km","dbm":-5.69,"ber":0.0322},{"km":"50 km","dbm":-5.53,"ber":0.0281},{"km":"50 km","dbm":-5.38,"ber":0.0244},{"km":"50 km","dbm":-5.23,"ber":0.0212},{"km":"50 km","dbm":-5.09,"ber":0.0183},{"km":"50 km","dbm":-4.95,"ber":0.0158},{"km":"50 km","dbm":-4.81,"ber":0.0136},{"km":"50 km","dbm":-4.69,"ber":0.0116},{"km":"50 km","dbm":-4.56,"ber":0.0102},{"km":"50 km","dbm":-4.44,"ber":0.0089},{"km":"50 km","dbm":-4.32,"ber":0.0078},{"km":"50 km","dbm":-4.20,"ber":0.0068},{"km":"50 km","dbm":-4.09,"ber":0.0059},{"km":"50 km","dbm":-3.98,"ber":0.0049},{"km":"50 km","dbm":-3.87,"ber":0.0043},{"km":"50 km","dbm":-3.77,"ber":0.0037},{"km":"50 km","dbm":-3.67,"ber":0.0032},{"km":"50 km","dbm":-3.57,"ber":0.0026},{"km":"50 km","dbm":-3.47,"ber":0.0023},{"km":"50 km","dbm":-3.37,"ber":0.00205},{"km":"50 km","dbm":-3.28,"ber":0.00178},{"km":"50 km","dbm":-3.19,"ber":0.00154},{"km":"50 km","dbm":-3.10,"ber":0.00135},{"km":"50 km","dbm":-3.01,"ber":0.00114},{"km":"50 km","dbm":-2.92,"ber":9.7e-4}
],
"d":[
{"km":"10 km","dbm":-20.00,"ber":1.02e-2},{"km":"10 km","dbm":-18.24,"ber":3.0e-4},{"km":"10 km","dbm":-16.99,"ber":3.1e-6},{"km":"10 km","dbm":-16.02,"ber":1.15e-8},{"km":"10 km","dbm":-15.23,"ber":1.2e-11},{"km":"10 km","dbm":-14.56,"ber":5.4e-15},{"km":"10 km","dbm":-13.98,"ber":7.6e-19},{"km":"10 km","dbm":-13.47,"ber":3e-23},
{"km":"20 km","dbm":-20.00,"ber":6.5e-2},{"km":"20 km","dbm":-18.24,"ber":1.62e-2},{"km":"20 km","dbm":-16.99,"ber":2.95e-3},{"km":"20 km","dbm":-16.02,"ber":3.0e-4},{"km":"20 km","dbm":-15.23,"ber":2.0e-5},{"km":"20 km","dbm":-14.56,"ber":1.26e-6},{"km":"20 km","dbm":-13.98,"ber":5.8e-8},{"km":"20 km","dbm":-13.47,"ber":1.38e-9},{"km":"20 km","dbm":-13.01,"ber":3.6e-11},{"km":"20 km","dbm":-12.60,"ber":6.0e-13},{"km":"20 km","dbm":-12.22,"ber":8.9e-15},{"km":"20 km","dbm":-11.87,"ber":8.7e-17},{"km":"20 km","dbm":-11.55,"ber":7.6e-19},{"km":"20 km","dbm":-11.25,"ber":4e-21},
{"km":"30 km","dbm":-20.00,"ber":0.195},{"km":"30 km","dbm":-18.24,"ber":0.107},{"km":"30 km","dbm":-16.99,"ber":0.050},{"km":"30 km","dbm":-16.02,"ber":0.0162},{"km":"30 km","dbm":-15.23,"ber":0.0054},{"km":"30 km","dbm":-14.56,"ber":0.0020},{"km":"30 km","dbm":-13.98,"ber":4.9e-4},{"km":"30 km","dbm":-13.47,"ber":1.29e-4},{"km":"30 km","dbm":-13.01,"ber":2.9e-5},{"km":"30 km","dbm":-12.60,"ber":6.5e-6},{"km":"30 km","dbm":-12.22,"ber":1.02e-6},{"km":"30 km","dbm":-11.87,"ber":1.7e-7},{"km":"30 km","dbm":-11.55,"ber":2.1e-8},{"km":"30 km","dbm":-11.25,"ber":3.7e-9},{"km":"30 km","dbm":-10.97,"ber":6.5e-10},{"km":"30 km","dbm":-10.71,"ber":7.8e-11},{"km":"30 km","dbm":-10.46,"ber":1.1e-11},{"km":"30 km","dbm":-10.22,"ber":1.48e-12},{"km":"30 km","dbm":-10.00,"ber":1.74e-13},{"km":"30 km","dbm":-9.79,"ber":1.86e-14},{"km":"30 km","dbm":-9.59,"ber":2.6e-15},{"km":"30 km","dbm":-9.39,"ber":3.2e-16},{"km":"30 km","dbm":-9.21,"ber":3.7e-17},{"km":"30 km","dbm":-9.03,"ber":5.0e-18},{"km":"30 km","dbm":-8.86,"ber":6.9e-19},{"km":"30 km","dbm":-8.70,"ber":9.3e-20},{"km":"30 km","dbm":-8.54,"ber":1.29e-20},{"km":"30 km","dbm":-8.39,"ber":1.6e-21},
{"km":"40 km","dbm":-20.00,"ber":0.236},{"km":"40 km","dbm":-18.24,"ber":0.176},{"km":"40 km","dbm":-16.99,"ber":0.126},{"km":"40 km","dbm":-16.02,"ber":0.087},{"km":"40 km","dbm":-15.23,"ber":0.058},{"km":"40 km","dbm":-14.56,"ber":0.037},{"km":"40 km","dbm":-13.98,"ber":0.0228},{"km":"40 km","dbm":-13.47,"ber":0.0136},{"km":"40 km","dbm":-13.01,"ber":0.0078},{"km":"40 km","dbm":-12.60,"ber":0.0042},{"km":"40 km","dbm":-12.22,"ber":0.0022},{"km":"40 km","dbm":-11.87,"ber":1.1e-3},{"km":"40 km","dbm":-11.55,"ber":5.3e-4},{"km":"40 km","dbm":-11.25,"ber":2.4e-4},{"km":"40 km","dbm":-10.97,"ber":1.08e-4},{"km":"40 km","dbm":-10.71,"ber":4.6e-5},{"km":"40 km","dbm":-10.46,"ber":1.9e-5},{"km":"40 km","dbm":-10.22,"ber":7.5e-6},{"km":"40 km","dbm":-10.00,"ber":2.8e-6},{"km":"40 km","dbm":-9.79,"ber":1.0e-6},{"km":"40 km","dbm":-9.59,"ber":3.5e-7},{"km":"40 km","dbm":-9.39,"ber":1.33e-7},{"km":"40 km","dbm":-9.21,"ber":4.9e-8},{"km":"40 km","dbm":-9.03,"ber":1.8e-8},{"km":"40 km","dbm":-8.86,"ber":6.4e-9},{"km":"40 km","dbm":-8.70,"ber":2.1e-9},{"km":"40 km","dbm":-8.54,"ber":7.3e-10},{"km":"40 km","dbm":-8.39,"ber":2.7e-10},{"km":"40 km","dbm":-8.24,"ber":9.5e-11},{"km":"40 km","dbm":-8.10,"ber":3.3e-11},{"km":"40 km","dbm":-7.96,"ber":1.1e-11},{"km":"40 km","dbm":-7.83,"ber":3.7e-12},{"km":"40 km","dbm":-7.70,"ber":1.2e-12},{"km":"40 km","dbm":-7.57,"ber":3.8e-13},{"km":"40 km","dbm":-7.45,"ber":1.1e-13},{"km":"40 km","dbm":-7.33,"ber":3.2e-14},{"km":"40 km","dbm":-7.21,"ber":1.27e-14},{"km":"40 km","dbm":-7.10,"ber":4.8e-15},{"km":"40 km","dbm":-6.99,"ber":1.8e-15},{"km":"40 km","dbm":-6.88,"ber":6.7e-16},{"km":"40 km","dbm":-6.78,"ber":2.5e-16},{"km":"40 km","dbm":-6.68,"ber":9.0e-17},{"km":"40 km","dbm":-6.58,"ber":4.0e-17},{"km":"40 km","dbm":-6.48,"ber":2.1e-17},{"km":"40 km","dbm":-6.38,"ber":9.5e-18},{"km":"40 km","dbm":-6.29,"ber":4.8e-18},{"km":"40 km","dbm":-6.20,"ber":2.2e-18},{"km":"40 km","dbm":-6.11,"ber":1.0e-18},{"km":"40 km","dbm":-6.02,"ber":4.8e-19},{"km":"40 km","dbm":-5.93,"ber":2.2e-19},{"km":"40 km","dbm":-5.85,"ber":1.03e-19},{"km":"40 km","dbm":-5.77,"ber":4.7e-20},{"km":"40 km","dbm":-5.69,"ber":2.1e-20},{"km":"40 km","dbm":-5.61,"ber":9.7e-21},
{"km":"50 km","dbm":-20.00,"ber":0.326},{"km":"50 km","dbm":-18.24,"ber":0.281},{"km":"50 km","dbm":-16.99,"ber":0.239},{"km":"50 km","dbm":-16.02,"ber":0.198},{"km":"50 km","dbm":-15.23,"ber":0.164},{"km":"50 km","dbm":-14.56,"ber":0.134},{"km":"50 km","dbm":-13.98,"ber":0.108},{"km":"50 km","dbm":-13.47,"ber":0.0853},{"km":"50 km","dbm":-13.01,"ber":0.0655},{"km":"50 km","dbm":-12.60,"ber":0.0505},{"km":"50 km","dbm":-12.22,"ber":0.0384},{"km":"50 km","dbm":-11.87,"ber":0.0287},{"km":"50 km","dbm":-11.55,"ber":0.0212},{"km":"50 km","dbm":-11.25,"ber":0.0150},{"km":"50 km","dbm":-10.97,"ber":0.0107},{"km":"50 km","dbm":-10.71,"ber":0.0075},{"km":"50 km","dbm":-10.46,"ber":0.0052},{"km":"50 km","dbm":-10.22,"ber":0.0035},{"km":"50 km","dbm":-10.00,"ber":0.0024},{"km":"50 km","dbm":-9.79,"ber":0.0017},{"km":"50 km","dbm":-9.59,"ber":1.14e-3},{"km":"50 km","dbm":-9.39,"ber":7.9e-4},{"km":"50 km","dbm":-9.21,"ber":5.4e-4},{"km":"50 km","dbm":-9.03,"ber":3.5e-4},{"km":"50 km","dbm":-8.86,"ber":2.3e-4},{"km":"50 km","dbm":-8.70,"ber":1.5e-4},{"km":"50 km","dbm":-8.54,"ber":9.6e-5},{"km":"50 km","dbm":-8.39,"ber":6.2e-5},{"km":"50 km","dbm":-8.24,"ber":3.9e-5},{"km":"50 km","dbm":-8.10,"ber":2.5e-5},{"km":"50 km","dbm":-7.96,"ber":1.5e-5},{"km":"50 km","dbm":-7.83,"ber":9.3e-6},{"km":"50 km","dbm":-7.70,"ber":5.7e-6},{"km":"50 km","dbm":-7.57,"ber":3.6e-6},{"km":"50 km","dbm":-7.45,"ber":2.1e-6},{"km":"50 km","dbm":-7.33,"ber":1.24e-6},{"km":"50 km","dbm":-7.21,"ber":7.6e-7},{"km":"50 km","dbm":-7.10,"ber":4.3e-7},{"km":"50 km","dbm":-6.99,"ber":2.5e-7},{"km":"50 km","dbm":-6.88,"ber":1.4e-7},{"km":"50 km","dbm":-6.78,"ber":8.0e-8},{"km":"50 km","dbm":-6.68,"ber":4.9e-8},{"km":"50 km","dbm":-6.58,"ber":2.8e-8},{"km":"50 km","dbm":-6.48,"ber":1.7e-8},{"km":"50 km","dbm":-6.38,"ber":9.5e-9},{"km":"50 km","dbm":-6.29,"ber":5.6e-9},{"km":"50 km","dbm":-6.20,"ber":3.1e-9},{"km":"50 km","dbm":-6.02,"ber":9.9e-10},{"km":"50 km","dbm":-5.85,"ber":3.0e-10},{"km":"50 km","dbm":-5.69,"ber":8.9e-11},{"km":"50 km","dbm":-5.53,"ber":3.5e-11},{"km":"50 km","dbm":-5.38,"ber":1.4e-11},{"km":"50 km","dbm":-5.23,"ber":5.2e-12},{"km":"50 km","dbm":-5.09,"ber":2.1e-12},{"km":"50 km","dbm":-4.95,"ber":9.0e-13},{"km":"50 km","dbm":-4.81,"ber":4.0e-13},{"km":"50 km","dbm":-4.69,"ber":1.9e-13},{"km":"50 km","dbm":-4.56,"ber":9.3e-14},{"km":"50 km","dbm":-4.44,"ber":4.3e-14},{"km":"50 km","dbm":-4.32,"ber":2.2e-14},{"km":"50 km","dbm":-4.20,"ber":1.2e-14},{"km":"50 km","dbm":-4.09,"ber":6.3e-15},{"km":"50 km","dbm":-3.98,"ber":3.4e-15},{"km":"50 km","dbm":-3.87,"ber":1.8e-15},{"km":"50 km","dbm":-3.77,"ber":9.4e-16},{"km":"50 km","dbm":-3.67,"ber":5.3e-16},{"km":"50 km","dbm":-3.57,"ber":2.8e-16},{"km":"50 km","dbm":-3.47,"ber":1.5e-16},{"km":"50 km","dbm":-3.37,"ber":8.0e-17},{"km":"50 km","dbm":-3.28,"ber":4.4e-17},{"km":"50 km","dbm":-3.19,"ber":2.4e-17},{"km":"50 km","dbm":-3.10,"ber":1.3e-17},{"km":"50 km","dbm":-3.01,"ber":7.3e-18}
]
},
"title":{"text":"74","orient":"top","anchor":"end","frame":"group","font":"Liberation Serif","fontSize":22,"fontWeight":"normal","color":"#000","dx":874,"offset":45},
"columns":2,
"spacing":{"row":164,"column":123},
"bounds":"flush",
"concat":[
{"width":362,"height":308,"data":{"name":"a"},
 "title":{"text":"BER x Potência - 50 MHz - 1 Gbps - 1310 nm","dx":7,"offset":2},
 "layer":[
  {"mark":{"type":"line","strokeWidth":1,"clip":true},
   "encoding":{
    "x":{"field":"dbm","type":"quantitative","scale":{"domain":[-20.5,-2.5],"nice":false,"zero":false},
     "axis":{"values":[-20.5,-15,-10,-5,-2.5],"labelExpr":"replace(toString(datum.value), '.', ',')","labelFlush":false,"grid":true,"ticks":true,"tickSize":-5,"labelPadding":14,"title":"Potência do Laser (dBm)","titleX":197,"titleY":46,"titleAlign":"center","titleBaseline":"alphabetic"}},
    "y":{"field":"ber","type":"quantitative","scale":{"type":"log","domain":[1e-20,1],"nice":false},
     "axis":{"orient":"left","values":[1,1e-1,1e-2,1e-3,1e-4,1e-5,1e-6,1e-7,1e-8,1e-9,1e-10,1e-11,1e-12,1e-13,1e-14,1e-15,1e-16,1e-17,1e-18,1e-19,1e-20],"grid":true,"gridColor":"#e4e4e4","gridWidth":1,"labels":false,"ticks":true,"tickSize":3,
      "title":"(a)","titleX":166,"titleY":413,"titleAngle":0,"titleAlign":"center","titleBaseline":"alphabetic","titleFont":"Liberation Serif","titleFontSize":22,"titleFontWeight":"normal","titleColor":"#000"}},
    "color":{"field":"km","type":"nominal","scale":{"domain":["10 km","20 km","30 km","40 km","50 km"],"range":["#c0161e","#d4a020","#24b424","#2cc8a0","#1a8cc4"]},
     "legend":{"legendX":2,"legendY":183,"encode":{"labels":{"update":{"x":{"value":-3},"align":{"value":"left"},"fill":{"signal":"['#a81818','#c8a438','#2aa82a','#2cbca0','#2288b0'][datum.index]"}}},"symbols":{"update":{"x":{"value":45},"fill":{"signal":"['#c0161e','#d4a020','#24b424','#2cc8a0','#1a8cc4'][datum.index]"},"strokeWidth":{"value":0}}}}}}}},
  {"mark":{"type":"point","shape":"M0,-1L0.3,-0.55L0.7,-0.7L0.55,-0.3L1,0L0.55,0.3L0.7,0.7L0.3,0.55L0,1L-0.3,0.55L-0.7,0.7L-0.55,0.3L-1,0L-0.55,-0.3L-0.7,-0.7L-0.3,-0.55Z","filled":true,"size":75,"opacity":1,"strokeWidth":0,"clip":true},
   "encoding":{
    "x":{"field":"dbm","type":"quantitative","axis":null},
    "y":{"field":"ber","type":"quantitative",
     "axis":{"orient":"left","values":[1,1e-5,1e-10,1e-15,1e-20],"labelExpr":"'1e' + toString(round(log(datum.value)/LN10))","labelFlush":true,"grid":true,"ticks":true,"tickSize":3,"labelPadding":6,"title":"BER","titleAngle":0,"titleAlign":"left","titleBaseline":"alphabetic","titleX":-60,"titleY":-8}},
    "color":{"field":"km","type":"nominal"}}}
 ],
 "resolve":{"axis":{"x":"independent","y":"independent"}}
},
{"width":363,"height":308,"data":{"name":"b"},
 "title":{"text":"BER x Potência - 50 MHz - 1 Gbps - 1550 nm","dx":9,"offset":2},
 "layer":[
  {"mark":{"type":"line","strokeWidth":1,"clip":true},
   "encoding":{
    "x":{"field":"dbm","type":"quantitative","scale":{"domain":[-20.5,-2.5],"nice":false,"zero":false},
     "axis":{"values":[-20.5,-15,-10,-5,-2.5],"labelExpr":"replace(toString(datum.value), '.', ',')","labelFlush":false,"grid":true,"ticks":true,"tickSize":-5,"labelPadding":14,"title":"Potência do Laser (dBm)","titleX":198,"titleY":48,"titleAlign":"center","titleBaseline":"alphabetic"}},
    "y":{"field":"ber","type":"quantitative","scale":{"type":"log","domain":[1e-20,1],"nice":false},
     "axis":{"orient":"left","values":[1,1e-1,1e-2,1e-3,1e-4,1e-5,1e-6,1e-7,1e-8,1e-9,1e-10,1e-11,1e-12,1e-13,1e-14,1e-15,1e-16,1e-17,1e-18,1e-19,1e-20],"grid":true,"gridColor":"#e4e4e4","gridWidth":1,"labels":false,"ticks":true,"tickSize":3,
      "title":"(b)","titleX":167,"titleY":413,"titleAngle":0,"titleAlign":"center","titleBaseline":"alphabetic","titleFont":"Liberation Serif","titleFontSize":22,"titleFontWeight":"normal","titleColor":"#000"}},
    "color":{"field":"km","type":"nominal","scale":{"domain":["10 km","20 km","30 km","40 km","50 km"],"range":["#c0161e","#d4a020","#24b424","#2cc8a0","#1a8cc4"]},
     "legend":{"legendX":5,"legendY":182,"encode":{"labels":{"update":{"x":{"value":-3},"align":{"value":"left"},"fill":{"signal":"['#a81818','#c8a438','#2aa82a','#2cbca0','#2288b0'][datum.index]"}}},"symbols":{"update":{"x":{"value":45},"fill":{"signal":"['#c0161e','#d4a020','#24b424','#2cc8a0','#1a8cc4'][datum.index]"},"strokeWidth":{"value":0}}}}}}}},
  {"mark":{"type":"point","shape":"M0,-1L0.3,-0.55L0.7,-0.7L0.55,-0.3L1,0L0.55,0.3L0.7,0.7L0.3,0.55L0,1L-0.3,0.55L-0.7,0.7L-0.55,0.3L-1,0L-0.55,-0.3L-0.7,-0.7L-0.3,-0.55Z","filled":true,"size":75,"opacity":1,"strokeWidth":0,"clip":true},
   "encoding":{
    "x":{"field":"dbm","type":"quantitative","axis":null},
    "y":{"field":"ber","type":"quantitative",
     "axis":{"orient":"left","values":[1,1e-5,1e-10,1e-15,1e-20],"labelExpr":"'1e' + toString(round(log(datum.value)/LN10))","labelFlush":true,"grid":true,"ticks":true,"tickSize":3,"labelPadding":6,"title":"BER","titleAngle":0,"titleAlign":"left","titleBaseline":"alphabetic","titleX":-59,"titleY":-7}},
    "color":{"field":"km","type":"nominal"}}}
 ],
 "resolve":{"axis":{"x":"independent","y":"independent"}}
},
{"width":362,"height":308,"data":{"name":"c"},
 "title":{"text":"BER x Potência - 50 MHz - 10 Gbps - 1310 nm","dx":9,"offset":-1},
 "layer":[
  {"mark":{"type":"line","strokeWidth":1,"clip":true},
   "encoding":{
    "x":{"field":"dbm","type":"quantitative","scale":{"domain":[-20.5,-2.5],"nice":false,"zero":false},
     "axis":{"values":[-20.5,-15,-10,-5,-2.5],"labelExpr":"replace(toString(datum.value), '.', ',')","labelFlush":false,"grid":true,"ticks":true,"tickSize":-5,"labelPadding":14,"title":"Potência do Laser (dBm)","titleX":197,"titleY":43,"titleAlign":"center","titleBaseline":"alphabetic"}},
    "y":{"field":"ber","type":"quantitative","scale":{"type":"log","domain":[1e-20,1],"nice":false},
     "axis":{"orient":"left","values":[1,1e-1,1e-2,1e-3,1e-4,1e-5,1e-6,1e-7,1e-8,1e-9,1e-10,1e-11,1e-12,1e-13,1e-14,1e-15,1e-16,1e-17,1e-18,1e-19,1e-20],"grid":true,"gridColor":"#e4e4e4","gridWidth":1,"labels":false,"ticks":true,"tickSize":3,
      "title":"(c)","titleX":166,"titleY":413,"titleAngle":0,"titleAlign":"center","titleBaseline":"alphabetic","titleFont":"Liberation Serif","titleFontSize":22,"titleFontWeight":"normal","titleColor":"#000"}},
    "color":{"field":"km","type":"nominal","scale":{"domain":["10 km","20 km","30 km","40 km","50 km"],"range":["#c0161e","#d4a020","#24b424","#2cc8a0","#1a8cc4"]},
     "legend":{"legendX":11,"legendY":172,"encode":{"labels":{"update":{"x":{"value":-3},"align":{"value":"left"},"fill":{"signal":"['#a81818','#c8a438','#2aa82a','#2cbca0','#2288b0'][datum.index]"}}},"symbols":{"update":{"x":{"value":45},"fill":{"signal":"['#c0161e','#d4a020','#24b424','#2cc8a0','#1a8cc4'][datum.index]"},"strokeWidth":{"value":0}}}}}}}},
  {"mark":{"type":"point","shape":"M0,-1L0.3,-0.55L0.7,-0.7L0.55,-0.3L1,0L0.55,0.3L0.7,0.7L0.3,0.55L0,1L-0.3,0.55L-0.7,0.7L-0.55,0.3L-1,0L-0.55,-0.3L-0.7,-0.7L-0.3,-0.55Z","filled":true,"size":75,"opacity":1,"strokeWidth":0,"clip":true},
   "encoding":{
    "x":{"field":"dbm","type":"quantitative",
     "axis":{"orient":"top","labels":false,"ticks":false,"grid":false,"domain":false,
      "title":["Figura 5.4: BER x Potência do Laser (Largura dos lasers de 50 MHz): (a) Taxa de Bits 1 Gbps","/ Canal de 1310 nm ; (b) Taxa de Bits 1 Gbps / Canal de 1550 nm; (c) Taxa de Bits 10 Gbps /","Canal de 1310 nm; (d) Taxa de Bits 10 Gbps / Canal de 1550 nm."],
      "titleX":-74,"titleY":468,"titleAngle":0,"titleAlign":"left","titleBaseline":"alphabetic","titleFont":"Liberation Serif","titleFontSize":24.4,"titleFontWeight":"normal","titleColor":"#000","titleLineHeight":28}},
    "y":{"field":"ber","type":"quantitative",
     "axis":{"orient":"left","values":[1,1e-5,1e-10,1e-15,1e-20],"labelExpr":"'1e' + toString(round(log(datum.value)/LN10))","labelFlush":true,"grid":true,"ticks":true,"tickSize":3,"labelPadding":6,"title":"BER","titleAngle":0,"titleAlign":"left","titleBaseline":"alphabetic","titleX":-60,"titleY":-8}},
    "color":{"field":"km","type":"nominal"}}}
 ],
 "resolve":{"axis":{"x":"independent","y":"independent"}}
},
{"width":363,"height":308,"data":{"name":"d"},
 "title":{"text":"BER x Potência - 50 MHz - 10 Gbps - 1550 nm","dx":8,"offset":-2},
 "layer":[
  {"mark":{"type":"line","strokeWidth":1,"clip":true},
   "encoding":{
    "x":{"field":"dbm","type":"quantitative","scale":{"domain":[-20.5,-2.5],"nice":false,"zero":false},
     "axis":{"values":[-20.5,-15,-10,-5,-2.5],"labelExpr":"replace(toString(datum.value), '.', ',')","labelFlush":false,"grid":true,"ticks":true,"tickSize":-5,"labelPadding":14,"title":"Potência do Laser (dBm)","titleX":198,"titleY":44,"titleAlign":"center","titleBaseline":"alphabetic"}},
    "y":{"field":"ber","type":"quantitative","scale":{"type":"log","domain":[1e-20,1],"nice":false},
     "axis":{"orient":"left","values":[1,1e-1,1e-2,1e-3,1e-4,1e-5,1e-6,1e-7,1e-8,1e-9,1e-10,1e-11,1e-12,1e-13,1e-14,1e-15,1e-16,1e-17,1e-18,1e-19,1e-20],"grid":true,"gridColor":"#e4e4e4","gridWidth":1,"labels":false,"ticks":true,"tickSize":3,
      "title":"(d)","titleX":167,"titleY":413,"titleAngle":0,"titleAlign":"center","titleBaseline":"alphabetic","titleFont":"Liberation Serif","titleFontSize":22,"titleFontWeight":"normal","titleColor":"#000"}},
    "color":{"field":"km","type":"nominal","scale":{"domain":["10 km","20 km","30 km","40 km","50 km"],"range":["#c0161e","#d4a020","#24b424","#2cc8a0","#1a8cc4"]},
     "legend":{"legendX":13,"legendY":175,"encode":{"labels":{"update":{"x":{"value":-3},"align":{"value":"left"},"fill":{"signal":"['#a81818','#c8a438','#2aa82a','#2cbca0','#2288b0'][datum.index]"}}},"symbols":{"update":{"x":{"value":45},"fill":{"signal":"['#c0161e','#d4a020','#24b424','#2cc8a0','#1a8cc4'][datum.index]"},"strokeWidth":{"value":0}}}}}}}},
  {"mark":{"type":"point","shape":"M0,-1L0.3,-0.55L0.7,-0.7L0.55,-0.3L1,0L0.55,0.3L0.7,0.7L0.3,0.55L0,1L-0.3,0.55L-0.7,0.7L-0.55,0.3L-1,0L-0.55,-0.3L-0.7,-0.7L-0.3,-0.55Z","filled":true,"size":75,"opacity":1,"strokeWidth":0,"clip":true},
   "encoding":{
    "x":{"field":"dbm","type":"quantitative","axis":null},
    "y":{"field":"ber","type":"quantitative",
     "axis":{"orient":"left","values":[1,1e-5,1e-10,1e-15,1e-20],"labelExpr":"'1e' + toString(round(log(datum.value)/LN10))","labelFlush":true,"grid":true,"ticks":true,"tickSize":3,"labelPadding":6,"title":"BER","titleAngle":0,"titleAlign":"left","titleBaseline":"alphabetic","titleX":-60,"titleY":-8}},
    "color":{"field":"km","type":"nominal"}}}
 ],
 "resolve":{"axis":{"x":"independent","y":"independent"}}
}
]
}
